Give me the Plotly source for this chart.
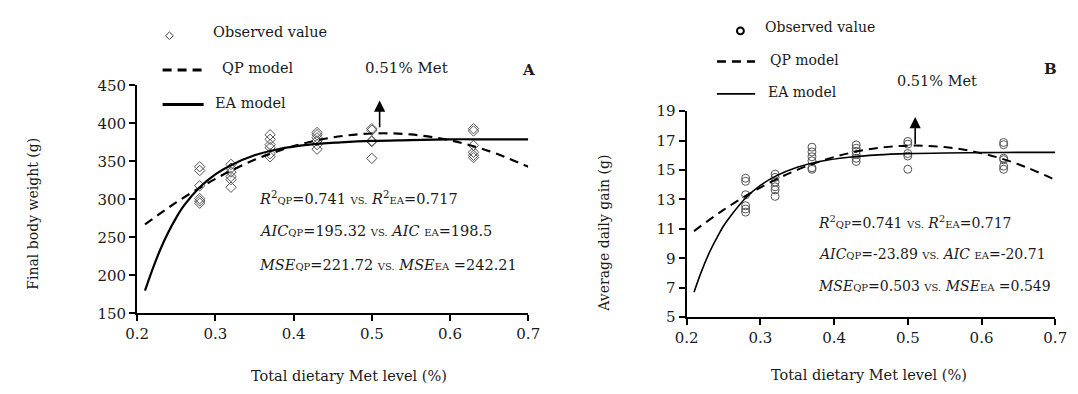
import plotly.graph_objects as go

# ---------------- data ----------------
met_levels = [0.28, 0.32, 0.37, 0.43, 0.50, 0.63]

# Panel A: final body weight (g), observed values per level
fbw_obs = {
    0.28: [343, 338, 318, 301, 298, 295],
    0.32: [346, 341, 336, 330, 326, 316],
    0.37: [385, 379, 372, 368, 360, 356],
    0.43: [388, 385, 381, 377, 372, 366],
    0.50: [393, 391, 377, 376, 354],
    0.63: [393, 390, 371, 362, 358, 355],
}
# Panel B: average daily gain (g)
adg_obs = {
    0.28: [14.44, 14.23, 13.32, 12.57, 12.35, 12.14],
    0.32: [14.72, 14.50, 14.18, 13.86, 13.65, 13.21],
    0.37: [16.55, 16.23, 15.90, 15.62, 15.15, 15.05],
    0.43: [16.70, 16.48, 16.27, 16.05, 15.80, 15.58],
    0.50: [16.94, 16.76, 16.12, 15.95, 15.05],
    0.63: [16.87, 16.72, 15.80, 15.70, 15.26, 15.05],
}

# model curves
ea_x = [0.21, 0.22, 0.23, 0.24, 0.25, 0.26, 0.28, 0.30, 0.32, 0.35, 0.38, 0.42, 0.46, 0.50, 0.55, 0.60, 0.65, 0.70]
fbw_ea_y = [180, 209, 235, 257, 276, 292, 316, 333, 345, 358, 366, 372, 375, 377, 378, 379, 379, 379]
adg_ea_y = [6.7, 8.1, 9.3, 10.3, 11.2, 11.9, 13.1, 13.95, 14.57, 15.19, 15.58, 15.87, 16.03, 16.11, 16.16, 16.18, 16.2, 16.2]

qp_x = [0.21, 0.25, 0.30, 0.35, 0.40, 0.45, 0.50, 0.55, 0.60, 0.65, 0.70]
fbw_qp_y = [267, 296, 327, 352, 370, 381.5, 386.7, 385.4, 377.7, 363.5, 343]
adg_qp_y = [10.85, 12.29, 13.81, 15.01, 15.88, 16.43, 16.65, 16.56, 16.14, 15.39, 14.33]

optimum_met = 0.51
fbw_arrow = [393, 430]
adg_arrow = [16.67, 18.6]

x_ticks = [0.2, 0.3, 0.4, 0.5, 0.6, 0.7]
fbw_ticks = [150, 200, 250, 300, 350, 400, 450]
adg_ticks = [5, 7, 9, 11, 13, 15, 17, 19]

# ---------------- figure ----------------
W, H = 1078, 394
FONT = "DejaVu Serif"
INK = "#1a1a1a"
fig = go.Figure()


def flat(d):
    xs, ys = [], []
    for k, v in d.items():
        xs += [k] * len(v)
        ys += v
    return xs, ys


fx, fy = flat(fbw_obs)
bx, by = flat(adg_obs)

fig.add_trace(go.Scatter(x=fx, y=fy, mode="markers", xaxis="x", yaxis="y",
                         marker=dict(symbol="diamond-open", size=8, color="#555", line=dict(width=1))))
fig.add_trace(go.Scatter(x=qp_x, y=fbw_qp_y, mode="lines", line_shape="spline", xaxis="x", yaxis="y",
                         line=dict(color="black", width=2.2, dash="9px,6px")))
fig.add_trace(go.Scatter(x=ea_x, y=fbw_ea_y, mode="lines", line_shape="spline", xaxis="x", yaxis="y",
                         line=dict(color="black", width=2.2)))

fig.add_trace(go.Scatter(x=bx, y=by, mode="markers", xaxis="x2", yaxis="y2",
                         marker=dict(symbol="circle-open", size=8, color="#555", line=dict(width=1))))
fig.add_trace(go.Scatter(x=qp_x, y=adg_qp_y, mode="lines", line_shape="spline", xaxis="x2", yaxis="y2",
                         line=dict(color="black", width=2, dash="9px,6px")))
fig.add_trace(go.Scatter(x=ea_x, y=adg_ea_y, mode="lines", line_shape="spline", xaxis="x2", yaxis="y2",
                         line=dict(color="black", width=1.6)))


def px(x):
    return x / W


def py(y):
    return 1 - y / H


axis_common = dict(showgrid=False, zeroline=False, showline=True, linecolor="black", linewidth=2,
                   ticks="outside", ticklen=6, tickwidth=2, tickcolor="black",
                   tickfont=dict(family=FONT, size=15, color=INK))

fig.update_layout(
    width=W, height=H, margin=dict(l=0, r=0, t=0, b=0),
    paper_bgcolor="white", plot_bgcolor="white", showlegend=False,
    xaxis=dict(domain=[px(128), px(528)], range=[0.2, 0.7], tickvals=x_ticks,
               ticktext=[f"{v:.1f}" for v in x_ticks], anchor="y", **axis_common),
    yaxis=dict(domain=[py(319), py(80)], range=[150, 450], tickvals=fbw_ticks, anchor="x", **axis_common),
    xaxis2=dict(domain=[px(690), px(1067)], range=[0.2, 0.7], tickvals=x_ticks,
                ticktext=[f"{v:.1f}" for v in x_ticks], anchor="y2", **axis_common),
    yaxis2=dict(domain=[py(323), py(107)], range=[5, 19], tickvals=adg_ticks, anchor="x2", **axis_common),
)

ann = []


def text(x, y, s, size=14.5, xanchor="left", bold=False, angle=0, color=INK):
    if bold:
        s = f"<b>{s}</b>"
    ann.append(dict(x=px(x), y=py(y), xref="paper", yref="paper", text=s, showarrow=False,
                    xanchor=xanchor, yanchor="middle", textangle=angle,
                    font=dict(family=FONT, size=size, color=color)))


# axis titles
text(345, 385, "Total dietary Met level (%)", size=14.5, xanchor="center")
text(877, 383, "Total dietary Met level (%)", size=14.5, xanchor="center")
text(22, 215, "Final body weight (g)", size=14, xanchor="center", angle=-90)
text(606, 235, "Average daily gain (g)", size=14, xanchor="center", angle=-90)

# legends
text(204, 24, "Observed value", size=14.5)
text(213, 62, "QP model", size=14.5)
text(206, 99, "EA model", size=14.5)
text(768, 19, "Observed value", size=14)
text(773, 53, "QP model", size=14)
text(771, 87, "EA model", size=14)

text(359, 62, "0.51% Met", size=15)
text(903, 75, "0.51% Met", size=14.5)
text(528, 64, "A", size=15, xanchor="center", bold=True)
text(1062, 63, "B", size=15, xanchor="center", bold=True)

sm = "font-size:10px"
vs = f"<span style='{sm}'>VS.</span>"
r2 = (f"<i>R</i><sup>2</sup><span style='{sm}'>QP</span>=0.741 {vs} "
      f"<i>R</i><sup>2</sup><span style='{sm}'>EA</span>=0.717")
STAT = 14.5
text(251, 198, r2, size=STAT)
text(251, 233, f"<i>AIC</i><span style='{sm}'>QP</span>=195.32 {vs} <i>AIC</i> <span style='{sm}'>EA</span>=198.5", size=STAT)
text(251, 268, f"<i>MSE</i><span style='{sm}'>QP</span>=221.72 {vs} <i>MSE</i><span style='{sm}'>EA</span> =242.21", size=STAT)

text(822, 223, r2, size=14)
text(822, 257, f"<i>AIC</i><span style='{sm}'>QP</span>=-23.89 {vs} <i>AIC</i> <span style='{sm}'>EA</span>=-20.71", size=14)
text(822, 290, f"<i>MSE</i><span style='{sm}'>QP</span>=0.503 {vs} <i>MSE</i><span style='{sm}'>EA</span> =0.549", size=14)

# arrows (data coordinates)
ann.append(dict(x=optimum_met, y=fbw_arrow[1], ax=optimum_met, ay=fbw_arrow[0], xref="x", yref="y",
                axref="x", ayref="y", showarrow=True, arrowhead=2, arrowsize=1.4, arrowwidth=1.6,
                arrowcolor="black", text=""))
ann.append(dict(x=optimum_met, y=adg_arrow[1], ax=optimum_met, ay=adg_arrow[0], xref="x2", yref="y2",
                axref="x2", ayref="y2", showarrow=True, arrowhead=2, arrowsize=1.4, arrowwidth=1.6,
                arrowcolor="black", text=""))

fig.update_layout(annotations=ann)

# legend symbols (decorations in paper pixels)
shapes = []


def hline(x0, x1, y, dash=None, width=2.5):
    shapes.append(dict(type="line", xref="paper", yref="paper", x0=px(x0), x1=px(x1), y0=py(y), y1=py(y),
                       line=dict(color="black", width=width, dash=dash)))


hline(154, 196, 64, dash="9px,6px", width=3)
hline(154, 196, 100, width=3)
hline(721, 760, 55, dash="9px,6px", width=2.5)
hline(721, 760, 89, width=1.8)
# diamond marker
cx, cy, r = 161, 28, 4
shapes.append(dict(type="path", xref="paper", yref="paper",
                   path=f"M {px(cx)},{py(cy - r)} L {px(cx + r)},{py(cy)} L {px(cx)},{py(cy + r)} L {px(cx - r)},{py(cy)} Z",
                   line=dict(color="#444", width=1)))
# circle marker
shapes.append(dict(type="circle", xref="paper", yref="paper", x0=px(741.5), x1=px(748.5), y0=py(26.5), y1=py(19.5),
                   line=dict(color="black", width=2)))
fig.update_layout(shapes=shapes)

fig.write_html("out.html", config={"displayModeBar": False},
               post_script="document.body.style.margin='0px';")
